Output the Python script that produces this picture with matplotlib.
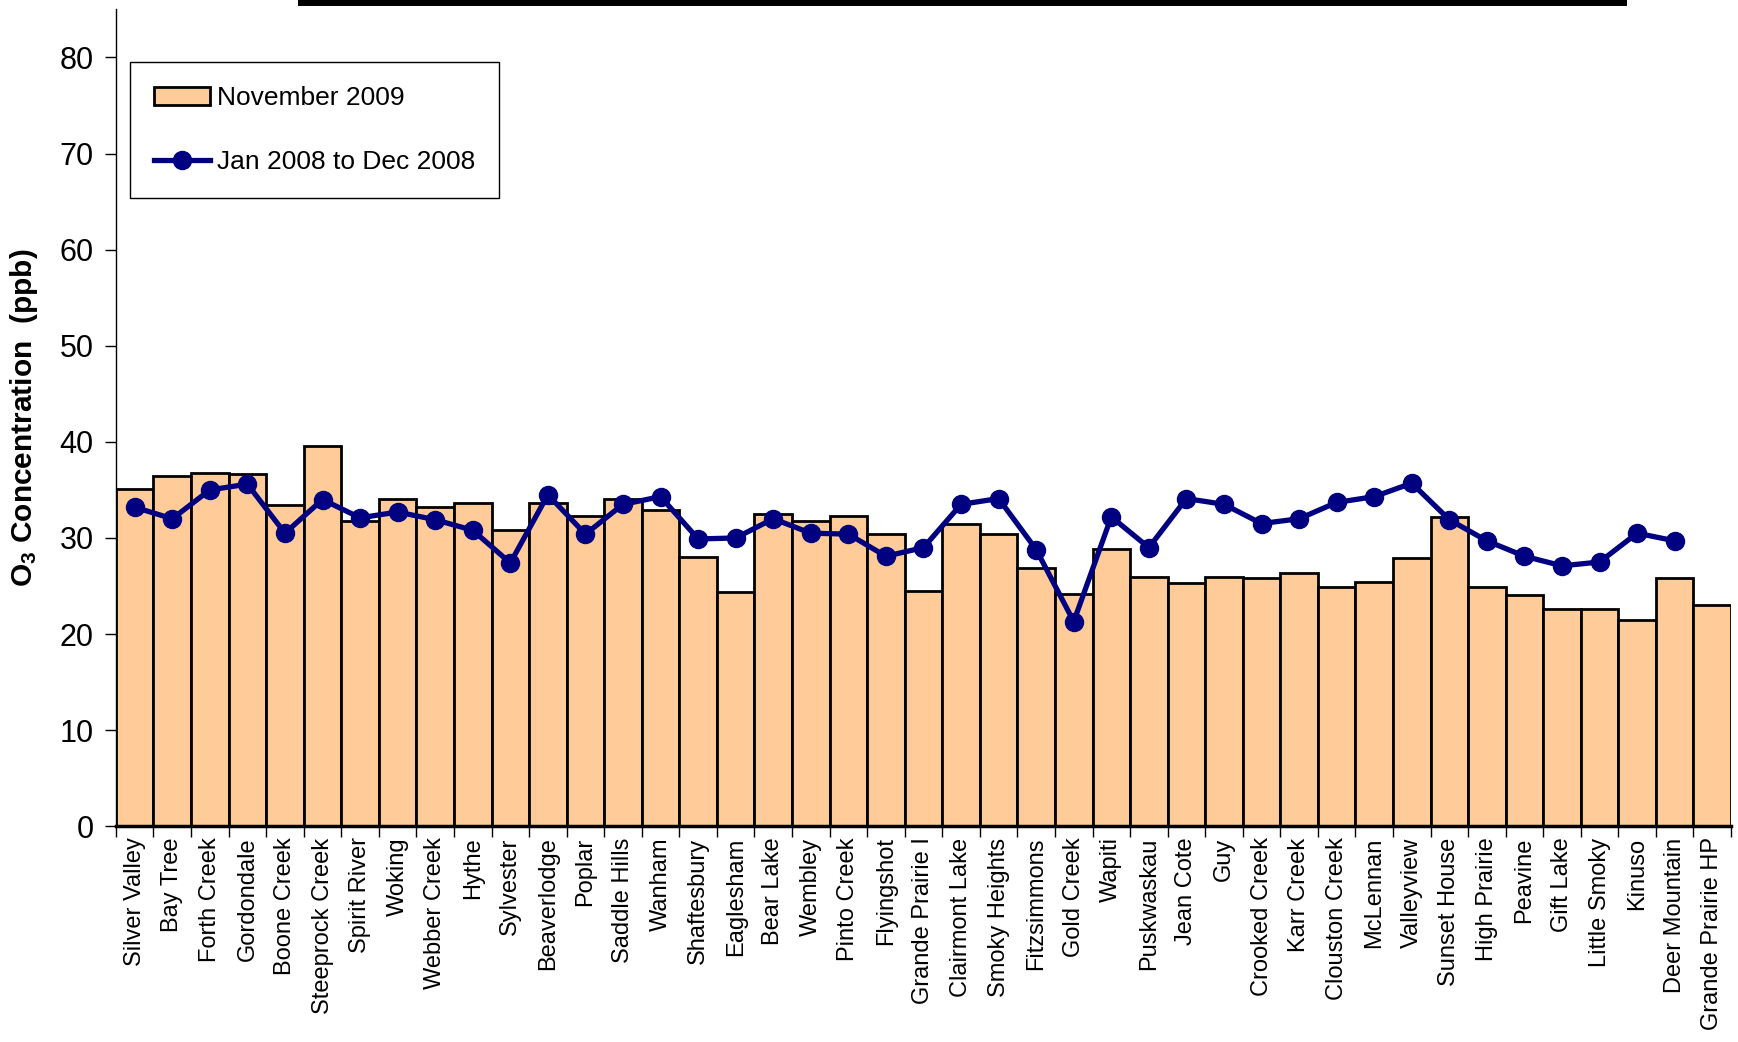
import numpy as np
import matplotlib
matplotlib.use('Agg')
import matplotlib.pyplot as plt
from matplotlib.lines import Line2D

plt.rcParams['font.family'] = ['Liberation Sans', 'DejaVu Sans']
plt.rcParams['mathtext.fontset'] = 'custom'
plt.rcParams['mathtext.rm'] = 'Liberation Sans'
plt.rcParams['mathtext.bf'] = 'Liberation Sans:bold'

# Station names along the x axis
stations = ['Silver Valley', 'Bay Tree', 'Forth Creek', 'Gordondale', 'Boone Creek',
            'Steeprock Creek', 'Spirit River', 'Woking', 'Webber Creek', 'Hythe',
            'Sylvester', 'Beaverlodge', 'Poplar', 'Saddle Hills', 'Wanham',
            'Shaftesbury', 'Eaglesham', 'Bear Lake', 'Wembley', 'Pinto Creek',
            'Flyingshot', 'Grande Prairie I', 'Clairmont Lake', 'Smoky Heights',
            'Fitzsimmons', 'Gold Creek', 'Wapiti', 'Puskwaskau', 'Jean Cote', 'Guy',
            'Crooked Creek', 'Karr Creek', 'Clouston Creek', 'McLennan', 'Valleyview',
            'Sunset House', 'High Prairie', 'Peavine', 'Gift Lake', 'Little Smoky',
            'Kinuso', 'Deer Mountain', 'Grande Prairie HP']

# Mean O3 (ppb), November 2009
nov_2009 = [35.1, 36.5, 36.8, 36.7, 33.4, 39.6, 31.8, 34.1, 33.2, 33.6,
            30.8, 33.6, 32.3, 34.1, 32.9, 28.0, 24.4, 32.5, 31.8, 32.3,
            30.4, 24.5, 31.5, 30.4, 26.9, 24.2, 28.9, 25.9, 25.3, 25.9,
            25.8, 26.4, 24.9, 25.4, 27.9, 32.2, 24.9, 24.1, 22.6, 22.6,
            21.5, 25.8, 23.0]

# Mean O3 (ppb), Jan 2008 to Dec 2008 (no value for the last station)
year_2008 = [33.2, 32.0, 35.0, 35.6, 30.5, 34.0, 32.1, 32.7, 31.9, 30.8,
             27.4, 34.5, 30.4, 33.5, 34.3, 29.9, 30.0, 32.0, 30.5, 30.4,
             28.1, 29.0, 33.5, 34.1, 28.8, 21.3, 32.2, 29.0, 34.1, 33.5,
             31.5, 32.0, 33.7, 34.3, 35.7, 31.9, 29.7, 28.1, 27.1, 27.5,
             30.5, 29.7, np.nan]

x = np.arange(len(stations))

fig = plt.figure(figsize=(17.38, 10.42), dpi=100)
ax = fig.add_axes([0.0667, 0.207, 0.9293, 0.784])

bars = ax.bar(x, nov_2009, width=1.0, color='#FFCC99', edgecolor='black',
              linewidth=2, label='November 2009', zorder=2)
line, = ax.plot(x, year_2008, color='#000080', linewidth=3.8, marker='o',
                markersize=13, label='Jan 2008 to Dec 2008', zorder=3)

ax.set_xlim(-0.5, len(stations) - 0.5)
ax.set_ylim(0, 85)
ax.set_yticks(np.arange(0, 90, 10))
ax.tick_params(axis='y', labelsize=22, length=8, width=1, pad=8)

# category labels centred on the bars, tick marks on the boundaries
ax.set_xticks(x)
ax.set_xticklabels(stations, rotation=90, fontsize=17)
ax.tick_params(axis='x', which='major', length=0, pad=8)
ax.set_xticks(np.arange(-0.5, len(stations), 1.0), minor=True)
ax.tick_params(axis='x', which='minor', length=8, width=1)

for side in ['top', 'right']:
    ax.spines[side].set_visible(False)
ax.spines['bottom'].set_linewidth(2.5)
ax.spines['left'].set_linewidth(1)

ax.set_ylabel(r'$\mathbf{O_3}$ Concentration  (ppb)', fontsize=21.5,
              fontweight='bold', labelpad=14)

leg = ax.legend([bars, line], ['November 2009', 'Jan 2008 to Dec 2008'],
                loc='upper left', bbox_to_anchor=(0.009, 0.935), fontsize=19,
                frameon=True, fancybox=False, edgecolor='black', framealpha=1,
                labelspacing=1.5, handlelength=2.1, handletextpad=0.28,
                borderpad=0.9, borderaxespad=0)
leg.get_frame().set_linewidth(1)

# heavy rule along the top edge
fig.add_artist(Line2D([0.173, 0.934], [0.998, 0.998], color='black', linewidth=5,
                      transform=fig.transFigure))

fig.savefig('out.png', dpi=100)
